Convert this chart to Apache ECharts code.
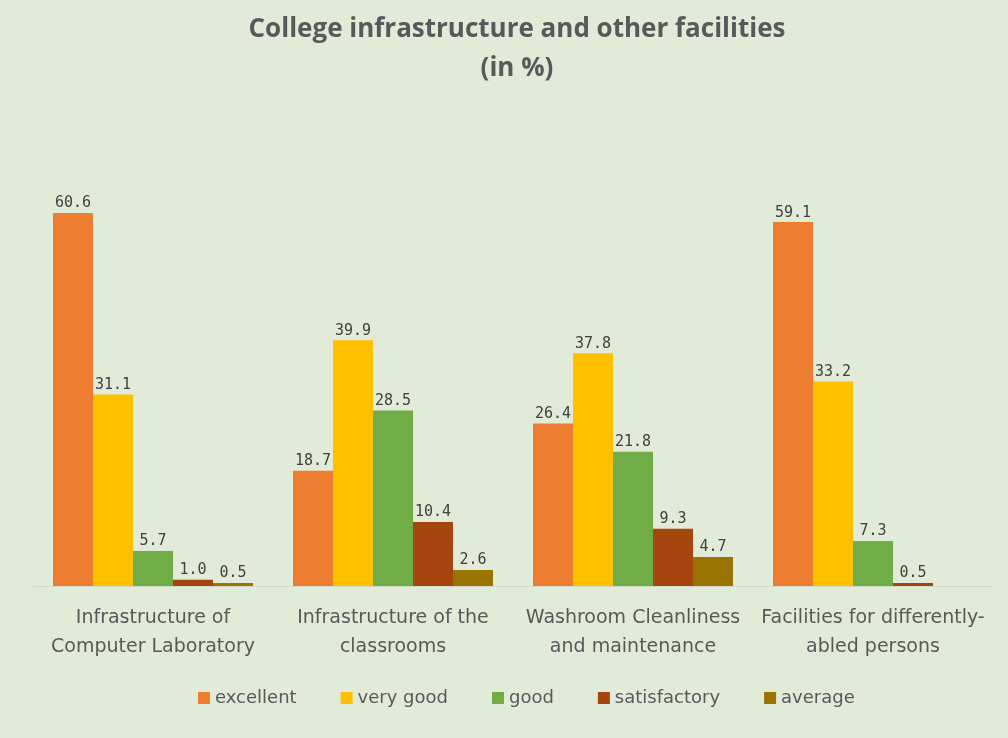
<!DOCTYPE html>
<html>
<head>
<meta charset="utf-8">
<script src="https://cdn.jsdelivr.net/npm/echarts@6/dist/echarts.min.js"></script>
<style>
html,body{margin:0;padding:0;background:#e2ebd8;}
#chart{width:1008px;height:738px;}
</style>
</head>
<body>
<div id="chart"></div>
<script>
var categories = ["Infrastructure of\nComputer Laboratory", "Infrastructure of the\nclassrooms", "Washroom Cleanliness\nand maintenance", "Facilities for differently-\nabled persons"];
var seriesNames = ["excellent", "very good", "good", "satisfactory", "average"];
var excellent = [60.6, 18.7, 26.4, 59.1];
var veryGood = [31.1, 39.9, 37.8, 33.2];
var good = [5.7, 28.5, 21.8, 7.3];
var satisfactory = [1.0, 10.4, 9.3, 0.5];
var average = [0.5, 2.6, 4.7, null];
var colors = ["#ED7D31", "#FFC000", "#70AD47", "#A5460E", "#9A7400"];

var dataSets = [excellent, veryGood, good, satisfactory, average];
var series = dataSets.map(function (d, i) {
  return {
    name: seriesNames[i],
    type: 'bar',
    data: d,
    barGap: '0%',
    barCategoryGap: '16.67%',
    itemStyle: { color: colors[i] },
    label: {
      show: true,
      position: 'top',
      distance: 2,
      color: '#404040',
      fontFamily: 'DejaVu Sans Mono',
      fontSize: 15,
      formatter: function (p) { return p.value == null ? '' : Number(p.value).toFixed(1); }
    }
  };
});

var chart = echarts.init(document.getElementById('chart'));
chart.setOption({
  backgroundColor: '#e2ebd8',
  animation: false,
  color: colors,
  title: {
    text: 'College infrastructure and other facilities\n(in %)',
    left: 512,
    textAlign: 'center',
    top: 5,
    textStyle: { fontFamily: 'Open Sans', fontWeight: 'bold', fontSize: 26, color: '#595959', lineHeight: 39 }
  },
  legend: {
    data: seriesNames,
    bottom: 26,
    left: 193,
    itemWidth: 12,
    itemHeight: 12,
    itemGap: 44,
    icon: 'rect',
    textStyle: { fontFamily: 'DejaVu Sans', fontSize: 18, color: '#595959' }
  },
  grid: { left: 33, right: 15, top: 155, bottom: 152 },
  xAxis: {
    type: 'category',
    data: categories,
    axisLine: { show: true, lineStyle: { color: '#d0d8c8' } },
    axisTick: { show: false },
    axisLabel: { color: '#595959', fontFamily: 'DejaVu Sans', fontSize: 19, lineHeight: 29, margin: 18, interval: 0 }
  },
  yAxis: {
    type: 'value',
    min: 0,
    max: 70,
    show: false,
    splitLine: { show: false }
  },
  series: series
});
</script>
</body>
</html>
